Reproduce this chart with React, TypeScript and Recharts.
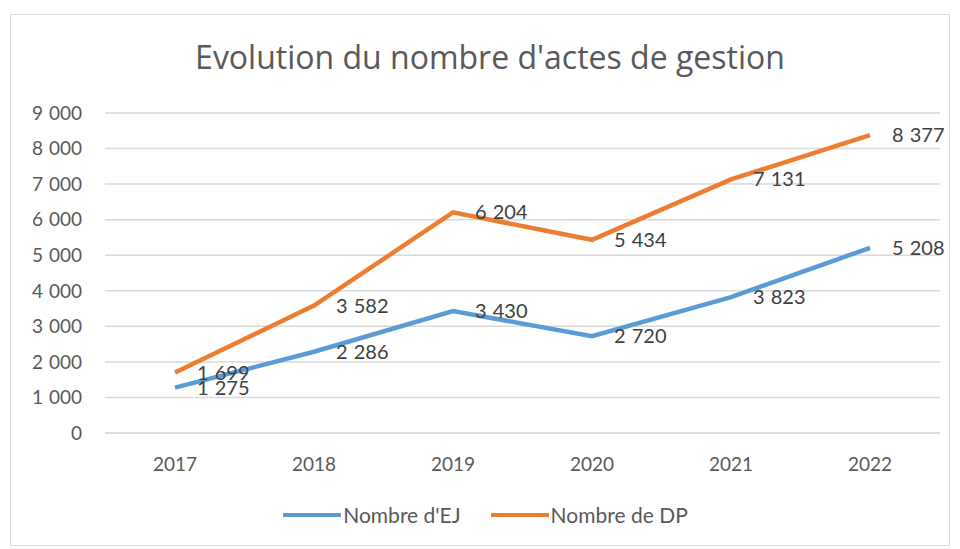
import { LineChart, Line, XAxis, YAxis, CartesianGrid, LabelList, Legend } from 'recharts'

const years = ['2017', '2018', '2019', '2020', '2021', '2022']
const nbEJ = [1275, 2286, 3430, 2720, 3823, 5208]
const nbDP = [1699, 3582, 6204, 5434, 7131, 8377]
const yTicks = [0, 1000, 2000, 3000, 4000, 5000, 6000, 7000, 8000, 9000]

const seriesNames = { ej: "Nombre d'EJ", dp: 'Nombre de DP' }
const BLUE = '#5b9bd5'
const ORANGE = '#ed7d31'
const FONT = 'Lato, "Open Sans", sans-serif'

const data = years.map((y, i) => ({ year: y, ej: nbEJ[i], dp: nbDP[i] }))

function fmt(v: number): string {
  return String(Math.round(v)).replace(/\B(?=(\d{3})+(?!\d))/g, ' ')
}

function PointLabel(props: any) {
  const { x, y, value } = props
  return (
    <text x={x + 22} y={y + 7} fill="#404040" fontSize={20} fontFamily={FONT} textAnchor="start" style={{ wordSpacing: 1 }}>
      {fmt(value)}
    </text>
  )
}

function LegendBox() {
  const items = [
    { name: seriesNames.ej, color: BLUE },
    { name: seriesNames.dp, color: ORANGE },
  ]
  return (
    <div style={{ display: 'flex', justifyContent: 'center', gap: 30, paddingLeft: 20, fontFamily: FONT, fontSize: 21, color: '#595959' }}>
      {items.map(it => (
        <div key={it.name} style={{ display: 'flex', alignItems: 'center' }}>
          <span style={{ display: 'inline-block', width: 58, height: 4, background: it.color, marginRight: 2 }} />
          <span>{it.name}</span>
        </div>
      ))}
    </div>
  )
}

export default function App() {
  return (
    <div
      style={{
        position: 'absolute',
        left: 10,
        top: 14,
        width: 938,
        height: 530,
        border: '1px solid #d9d9d9',
        background: '#fff',
      }}
    >
      <div
        style={{
          position: 'absolute',
          left: 20,
          right: 0,
          top: 20,
          textAlign: 'center',
          fontFamily: '"Open Sans", sans-serif',
          fontSize: 32,
          color: '#595959',
        }}
      >
        Evolution du nombre d'actes de gestion
      </div>
      <LineChart
        width={938}
        height={530}
        data={data}
        margin={{ top: 98, right: 9, bottom: 31, left: 0 }}
      >
        <CartesianGrid vertical={false} stroke="#d9d9d9" strokeWidth={1.5} />
        <XAxis
          dataKey="year"
          padding={{ left: 70, right: 70 }}
          axisLine={{ stroke: '#d9d9d9', strokeWidth: 1.5 }}
          tickLine={false}
          tickSize={0}
          tickMargin={25}
          height={56}
          tick={{ fontSize: 19, fill: '#595959', fontFamily: FONT }}
        />
        <YAxis
          domain={[0, 9000]}
          ticks={yTicks}
          interval={0}
          axisLine={false}
          tickLine={false}
          tickSize={0}
          tickMargin={23}
          width={94}
          tickFormatter={v => fmt(v as number)}
          tick={{ fontSize: 19, fill: '#595959', fontFamily: FONT, style: { wordSpacing: 1 } }}
        />
        <Legend verticalAlign="bottom" content={<LegendBox />} wrapperStyle={{ bottom: 18 }} />
        <Line
          type="linear"
          dataKey="ej"
          name={seriesNames.ej}
          stroke={BLUE}
          strokeWidth={4.5}
          dot={false}
          isAnimationActive={false}
        >
          <LabelList dataKey="ej" content={<PointLabel />} />
        </Line>
        <Line
          type="linear"
          dataKey="dp"
          name={seriesNames.dp}
          stroke={ORANGE}
          strokeWidth={4.5}
          dot={false}
          isAnimationActive={false}
        >
          <LabelList dataKey="dp" content={<PointLabel />} />
        </Line>
      </LineChart>
    </div>
  )
}
